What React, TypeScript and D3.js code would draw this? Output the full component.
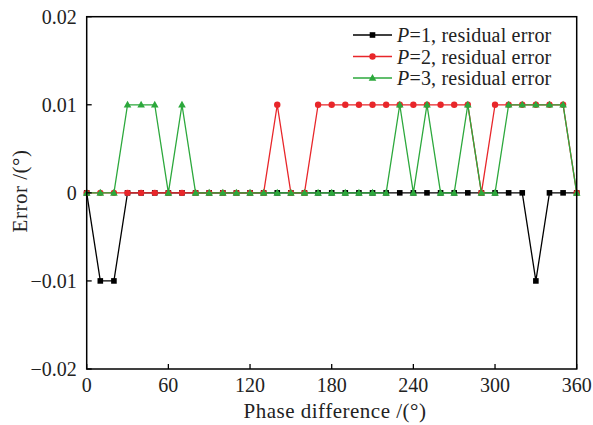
import React from "react";
import * as d3 from "d3";

const phases = d3.range(0, 361, 10);
const p1 = [0, -0.01, -0.01, 0, 0, 0, 0, 0, 0, 0, 0, 0, 0, 0, 0, 0, 0, 0, 0, 0, 0, 0, 0, 0, 0, 0, 0, 0, 0, 0, 0, 0, 0, -0.01, 0, 0, 0];
const p2 = [0, 0, 0, 0, 0, 0, 0, 0, 0, 0, 0, 0, 0, 0, 0.01, 0, 0, 0.01, 0.01, 0.01, 0.01, 0.01, 0.01, 0.01, 0.01, 0.01, 0.01, 0.01, 0.01, 0, 0.01, 0.01, 0.01, 0.01, 0.01, 0.01, 0];
const p3 = [0, 0, 0, 0.01, 0.01, 0.01, 0, 0.01, 0, 0, 0, 0, 0, 0, 0, 0, 0, 0, 0, 0, 0, 0, 0, 0.01, 0, 0.01, 0, 0, 0.01, 0, 0, 0.01, 0.01, 0.01, 0.01, 0.01, 0];
const xTicks = [0, 60, 120, 180, 240, 300, 360];
const yTicks = [-0.02, -0.01, 0, 0.01, 0.02];
const seriesNames = ["P=1, residual error", "P=2, residual error", "P=3, residual error"];
const seriesColors = ["#000000", "#e8262a", "#2ca83c"];

const W = 593, H = 425;
const L = 86.7, R = 576.7, T = 16.7, B = 369;
const FONT = "'Liberation Serif', 'DejaVu Serif', serif";

function fmtY(v: number) {
  if (v === 0) return "0";
  const s = Math.abs(v).toFixed(2);
  return (v < 0 ? "\u2212" : "") + s;
}

function Marker({ kind, x, y, color }: { kind: number; x: number; y: number; color: string }) {
  if (kind === 0) return <rect x={x - 2.8} y={y - 2.8} width={5.6} height={5.6} fill={color} />;
  if (kind === 1) return <circle cx={x} cy={y} r={3.2} fill={color} />;
  const s = 4;
  return <path d={`M${x},${y - s}L${x + s * 0.95},${y + s * 0.7}L${x - s * 0.95},${y + s * 0.7}Z`} fill={color} />;
}

export default function App() {
  const x = d3.scaleLinear().domain([0, 360]).range([L, R]);
  const y = d3.scaleLinear().domain([-0.02, 0.02]).range([B, T]);
  const series = [p1, p2, p3];
  const line = d3.line<[number, number]>().x(d => x(d[0])).y(d => y(d[1]));

  return (
    <svg width={W} height={H} style={{ position: "absolute", left: 0, top: 0, background: "#fff" }} fontFamily={FONT}>
      {series.map((s, si) => {
        const pts = phases.map((p, i) => [p, s[i]] as [number, number]);
        return (
          <g key={si}>
            <path d={line(pts) || ""} fill="none" stroke={seriesColors[si]} strokeWidth={1.3} />
            {pts.map((d, i) => (
              <Marker key={i} kind={si} x={x(d[0])} y={y(d[1])} color={seriesColors[si]} />
            ))}
          </g>
        );
      })}
      <rect x={L} y={T} width={R - L} height={B - T} fill="none" stroke="#000" strokeWidth={1.5} />
      {xTicks.map(t => (
        <g key={t}>
          <line x1={x(t)} x2={x(t)} y1={B} y2={B - 5} stroke="#000" strokeWidth={1.3} />
          <text x={x(t)} y={B + 16} textAnchor="middle" dominantBaseline="central" fontSize={20} fill="#222">{t}</text>
        </g>
      ))}
      {yTicks.map(t => (
        <g key={t}>
          <line x1={L} x2={L + 5} y1={y(t)} y2={y(t)} stroke="#000" strokeWidth={1.3} />
          <text x={L - 10} y={y(t)} textAnchor="end" dominantBaseline="central" fontSize={20} fill="#222">{fmtY(t)}</text>
        </g>
      ))}
      <text x={335} y={411} textAnchor="middle" dominantBaseline="central" fontSize={21} letterSpacing={0.5} fill="#222">Phase difference /(°)</text>
      <text transform={`translate(20,191) rotate(-90)`} textAnchor="middle" dominantBaseline="central" fontSize={21} letterSpacing={0.5} fill="#222">Error /(°)</text>
      {seriesNames.map((n, i) => {
        const ly = 35 + i * 21.5;
        return (
          <g key={n}>
            <line x1={353} x2={392} y1={ly} y2={ly} stroke={seriesColors[i]} strokeWidth={1.3} />
            <Marker kind={i} x={372.5} y={ly} color={seriesColors[i]} />
            <text x={397} y={ly} dominantBaseline="central" fontSize={20} letterSpacing={0.2} fill="#222">
              <tspan fontStyle="italic">P</tspan>
              {n.slice(1)}
            </text>
          </g>
        );
      })}
    </svg>
  );
}
